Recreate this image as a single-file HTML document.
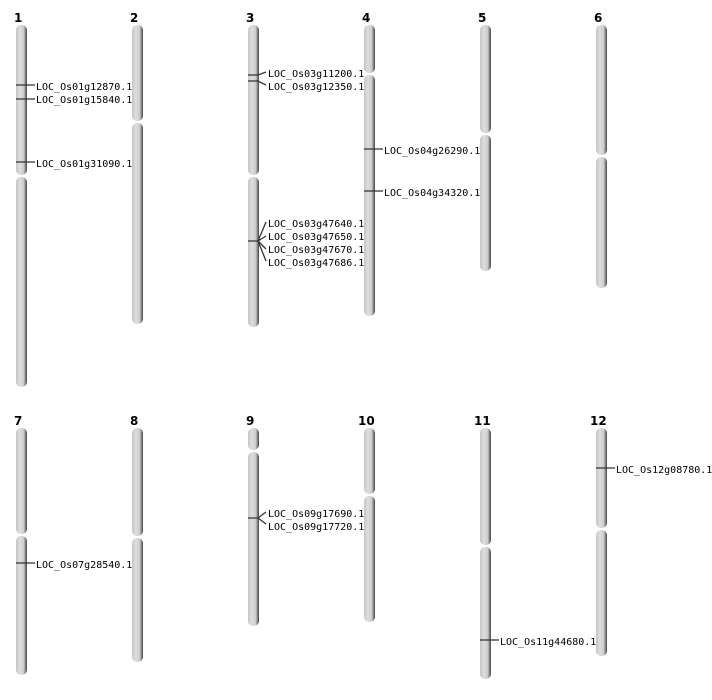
<!DOCTYPE html>
<html><head><meta charset="utf-8"><style>
body{margin:0;background:#fff}
svg{display:block}
.l{font-family:"DejaVu Sans Mono","Liberation Mono",monospace;font-size:10px;fill:#000}
.n{font-family:"DejaVu Sans","Liberation Sans",sans-serif;font-size:12px;font-weight:bold;fill:#000}
.m{stroke:#333;stroke-width:1.3;fill:none}
</style></head><body>
<svg width="712" height="700" viewBox="0 0 712 700" xmlns="http://www.w3.org/2000/svg">
<defs><linearGradient id="g" x1="0" x2="1" y1="0" y2="0">
<stop offset="0" stop-color="#c4c4c4"/><stop offset="0.35" stop-color="#dedede"/><stop offset="0.7" stop-color="#cdcdcd"/><stop offset="0.85" stop-color="#8a8a8a"/><stop offset="1" stop-color="#404040"/></linearGradient></defs>
<g fill="url(#g)">
<rect x="16" y="25" width="11" height="150" rx="5"/><rect x="16" y="177" width="11" height="210" rx="5"/>
<rect x="132" y="25" width="11" height="96" rx="5"/><rect x="132" y="123" width="11" height="201" rx="5"/>
<rect x="248" y="25" width="11" height="150" rx="5"/><rect x="248" y="177" width="11" height="150" rx="5"/>
<rect x="364" y="25" width="11" height="48" rx="5"/><rect x="364" y="75" width="11" height="241" rx="5"/>
<rect x="480" y="25" width="11" height="108" rx="5"/><rect x="480" y="135" width="11" height="136" rx="5"/>
<rect x="596" y="25" width="11" height="130" rx="5"/><rect x="596" y="157" width="11" height="131" rx="5"/>
<rect x="16" y="428" width="11" height="106" rx="5"/><rect x="16" y="536" width="11" height="139" rx="5"/>
<rect x="132" y="428" width="11" height="108" rx="5"/><rect x="132" y="538" width="11" height="124" rx="5"/>
<rect x="248" y="428" width="11" height="22" rx="5"/><rect x="248" y="452" width="11" height="174" rx="5"/>
<rect x="364" y="428" width="11" height="66" rx="5"/><rect x="364" y="496" width="11" height="126" rx="5"/>
<rect x="480" y="428" width="11" height="117" rx="5"/><rect x="480" y="547" width="11" height="132" rx="5"/>
<rect x="596" y="428" width="11" height="100" rx="5"/><rect x="596" y="530" width="11" height="126" rx="5"/>
</g>
<text class="n" x="14" y="22">1</text><text class="n" x="130" y="22">2</text><text class="n" x="246" y="22">3</text>
<text class="n" x="362" y="22">4</text><text class="n" x="478" y="22">5</text><text class="n" x="594" y="22">6</text>
<text class="n" x="14" y="425">7</text><text class="n" x="130" y="425">8</text><text class="n" x="246" y="425">9</text>
<text class="n" x="358" y="425">10</text><text class="n" x="474" y="425">11</text><text class="n" x="590" y="425">12</text>
<g class="m">
<path d="M16 85H35M16 99H35M16 162H35"/>
<path d="M248 75H258L266 72M248 81H258L266 85"/>
<path d="M248 241H258M258 241L266 222M258 241L266 236M258 241L266 249M258 241L266 261"/>
<path d="M364 149H383M364 191H383"/>
<path d="M16 563H35"/>
<path d="M248 518H258L266 512M258 518L266 524"/>
<path d="M480 640H499"/>
<path d="M596 468H615"/>
</g>
<g class="l">
<text x="36" y="90">LOC_Os01g12870.1</text><text x="36" y="103">LOC_Os01g15840.1</text><text x="36" y="167">LOC_Os01g31090.1</text>
<text x="268" y="77">LOC_Os03g11200.1</text><text x="268" y="90">LOC_Os03g12350.1</text>
<text x="268" y="227">LOC_Os03g47640.1</text><text x="268" y="240">LOC_Os03g47650.1</text><text x="268" y="253">LOC_Os03g47670.1</text><text x="268" y="266">LOC_Os03g47686.1</text>
<text x="384" y="154">LOC_Os04g26290.1</text><text x="384" y="196">LOC_Os04g34320.1</text>
<text x="36" y="568">LOC_Os07g28540.1</text>
<text x="268" y="517">LOC_Os09g17690.1</text><text x="268" y="530">LOC_Os09g17720.1</text>
<text x="500" y="645">LOC_Os11g44680.1</text>
<text x="616" y="473">LOC_Os12g08780.1</text>
</g>
</svg>
</body></html>
